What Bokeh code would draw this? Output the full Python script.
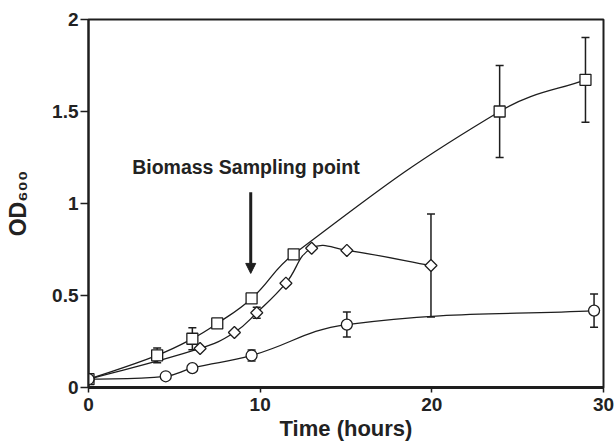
import numpy as np
from bokeh.plotting import figure
from bokeh.models import (Range1d, FixedTicker, Whisker, TeeHead, ColumnDataSource,
                          Label, Arrow, NormalHead)
from bokeh.embed import file_html
from bokeh.resources import INLINE

# ---- data ----
sq_t = [0, 4.0, 6.05, 7.5, 9.5, 11.95, 23.95, 28.95]
sq_od = [0.045, 0.175, 0.265, 0.348, 0.484, 0.724, 1.50, 1.672]
sq_err = [0, 0.04, 0.06, 0, 0, 0, 0.25, 0.23]

di_t = [0, 6.5, 8.5, 9.8, 11.5, 13.0, 15.05, 19.95]
di_od = [0.045, 0.212, 0.299, 0.406, 0.567, 0.757, 0.745, 0.663]
di_err = [0, 0, 0, 0.03, 0, 0, 0, 0.28]

ci_t = [0, 4.5, 6.05, 9.5, 15.05, 29.45]
ci_od = [0.045, 0.061, 0.105, 0.174, 0.342, 0.418]
ci_err = [0, 0, 0, 0.03, 0.068, 0.09]

x_ticks = [0, 10, 20, 30]
y_ticks = [0, 0.5, 1, 1.5, 2]
y_tick_labels = ["0", "0.5", "1", "1.5", "2"]

FONT = "Liberation Sans"
INK = "#1e1e1e"

FRAME_W, FRAME_H = 515, 368
p = figure(width=614, height=447, x_range=Range1d(0, 30), y_range=Range1d(0, 2),
           output_backend="svg", toolbar_location=None,
           min_border_left=88, min_border_right=11, min_border_top=19, min_border_bottom=60)
SX = FRAME_W / 30.0
SY = FRAME_H / 2.0

p.xgrid.visible = False
p.ygrid.visible = False
p.outline_line_color = INK
p.outline_line_width = 2
p.background_fill_color = "white"
p.border_fill_color = "white"

p.xaxis.ticker = FixedTicker(ticks=x_ticks)
p.yaxis.ticker = FixedTicker(ticks=y_ticks)
p.yaxis.major_label_overrides = {t: l for t, l in zip(y_ticks, y_tick_labels)}
p.xaxis.minor_tick_line_color = None
p.yaxis.minor_tick_line_color = None
for ax in (p.xaxis, p.yaxis):
    ax.axis_line_color = INK
    ax.major_tick_line_color = INK
    ax.major_tick_line_width = 1.5
    ax.major_tick_in = 0
    ax.major_label_text_font = FONT
    ax.major_label_text_font_style = "bold"
    ax.major_label_text_font_size = "19px"
    ax.major_label_text_color = "#222222"
    ax.axis_label_text_font = FONT
    ax.axis_label_text_font_style = "bold"
    ax.axis_label_text_color = "#222222"
p.xaxis.axis_line_width = 3
p.yaxis.axis_line_width = 2
p.xaxis.major_tick_out = 5
p.yaxis.major_tick_out = 8
p.xaxis.major_label_standoff = 5
p.yaxis.major_label_standoff = 2

p.xaxis.axis_label = "Time (hours)"
p.xaxis.axis_label_text_font_size = "22px"
p.xaxis.axis_label_standoff = 2
p.yaxis.axis_label = "OD\u2086\u2080\u2080"
p.yaxis.axis_label_text_font_size = "23px"
p.yaxis.axis_label_standoff = 18


def smooth_segments(xs, ys):
    """Bezier control points (chord-weighted Catmull-Rom) through the data points."""
    xs = np.asarray(xs, float)
    ys = np.asarray(ys, float)
    n = len(xs)
    px, py = xs * SX, ys * SY
    seg = np.hypot(np.diff(px), np.diff(py))
    tx = np.zeros(n); ty = np.zeros(n)
    for i in range(n):
        a = max(i - 1, 0); b = min(i + 1, n - 1)
        tx[i] = px[b] - px[a]; ty[i] = py[b] - py[a]
    out = dict(x0=[], y0=[], x1=[], y1=[], cx0=[], cy0=[], cx1=[], cy1=[])
    for i in range(n - 1):
        Li = seg[i]
        Lp = seg[i - 1] if i > 0 else Li
        Ln = seg[i + 1] if i + 1 < n - 1 else Li
        k0 = Li / (Lp + Li) / 2.3 if i > 0 else 1 / 3.0
        k1 = Li / (Li + Ln) / 2.3 if i + 1 < n - 1 else 1 / 3.0
        c0x = px[i] + tx[i] * k0; c0y = py[i] + ty[i] * k0
        c1x = px[i + 1] - tx[i + 1] * k1; c1y = py[i + 1] - ty[i + 1] * k1
        out["x0"].append(xs[i]); out["y0"].append(ys[i])
        out["x1"].append(xs[i + 1]); out["y1"].append(ys[i + 1])
        out["cx0"].append(c0x / SX); out["cy0"].append(c0y / SY)
        out["cx1"].append(c1x / SX); out["cy1"].append(c1y / SY)
    return out


def add_errors(ts, vals, errs):
    keep = [i for i, e in enumerate(errs) if e > 0]
    src = ColumnDataSource(dict(
        x=[ts[i] for i in keep],
        upper=[vals[i] + errs[i] for i in keep],
        lower=[vals[i] - errs[i] for i in keep]))
    w = Whisker(base="x", upper="upper", lower="lower", source=src,
                line_color=INK, line_width=1.5,
                upper_head=TeeHead(size=8, line_color=INK, line_width=1.5),
                lower_head=TeeHead(size=8, line_color=INK, line_width=1.5))
    p.add_layout(w)


for ts, vals in ((sq_t, sq_od), (di_t, di_od), (ci_t, ci_od)):
    seg = smooth_segments(ts, vals)
    p.bezier(x0="x0", y0="y0", x1="x1", y1="y1", cx0="cx0", cy0="cy0", cx1="cx1", cy1="cy1",
             source=ColumnDataSource(seg), line_color=INK, line_width=1.3)

add_errors(sq_t, sq_od, sq_err)
add_errors(di_t, di_od, di_err)
add_errors(ci_t, ci_od, ci_err)

p.scatter(sq_t, sq_od, marker="square", size=11, fill_color="white", line_color=INK, line_width=1.3)
p.scatter(di_t, di_od, marker="square", angle=np.pi / 4, size=8.5, fill_color="white",
          line_color=INK, line_width=1.3)
p.scatter(ci_t, ci_od, marker="circle", size=11, fill_color="white", line_color=INK, line_width=1.3)

# annotation
p.add_layout(Label(x=9.17, y=1.197, text="Biomass Sampling point", text_font=FONT,
                   text_font_style="bold", text_font_size="19.5px", text_color="#222222",
                   text_align="center", text_baseline="middle"))
p.add_layout(Arrow(end=NormalHead(size=10, fill_color=INK, line_color=INK, line_width=1),
                   x_start=9.45, y_start=1.061, x_end=9.45, y_end=0.62,
                   line_color=INK, line_width=3))

open("out.html", "w").write(file_html(p, INLINE))
